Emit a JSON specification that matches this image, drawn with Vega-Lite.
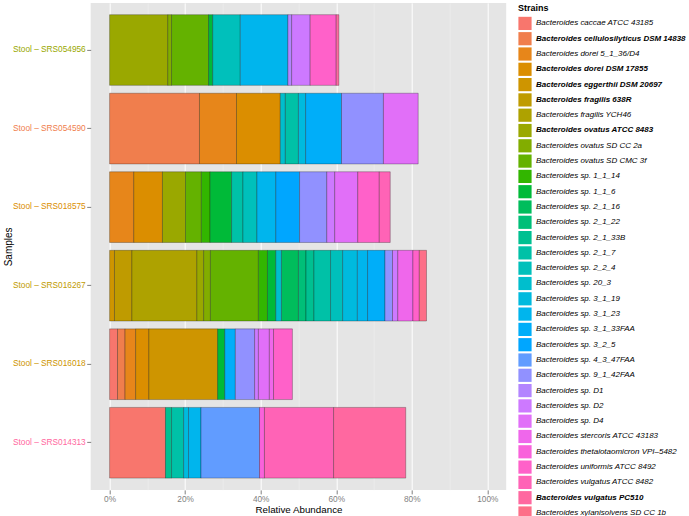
{
  "$schema": "https://vega.github.io/schema/vega-lite/v6.json",
  "autosize": "none",
  "width": 415.5,
  "height": 487,
  "padding": {"left": 90.7, "top": 2.9, "right": 182.8, "bottom": 26.2},
  "background": "white",
  "config": {
    "view": {"fill": "#E5E5E5", "stroke": null},
    "font": "Liberation Sans",
    "axis": {"labelFont": "Liberation Sans", "titleFont": "Liberation Sans", "domain": false, "titleFontWeight": "normal", "titleColor": "#000000"},
    "legend": {"labelFont": "Liberation Sans", "titleFont": "Liberation Sans"}
  },
  "data": {
    "values": [
      {"sample": "Stool – SRS054956", "strain": "Bacteroides ovatus ATCC 8483", "abundance": 0.154},
      {"sample": "Stool – SRS054956", "strain": "Bacteroides ovatus SD CC 2a", "abundance": 0.010},
      {"sample": "Stool – SRS054956", "strain": "Bacteroides ovatus SD CMC 3f", "abundance": 0.098},
      {"sample": "Stool – SRS054956", "strain": "Bacteroides sp. 1_1_6", "abundance": 0.011},
      {"sample": "Stool – SRS054956", "strain": "Bacteroides sp. 2_2_4", "abundance": 0.073},
      {"sample": "Stool – SRS054956", "strain": "Bacteroides sp. 3_1_23", "abundance": 0.126},
      {"sample": "Stool – SRS054956", "strain": "Bacteroides sp. D1", "abundance": 0.010},
      {"sample": "Stool – SRS054956", "strain": "Bacteroides sp. D2", "abundance": 0.049},
      {"sample": "Stool – SRS054956", "strain": "Bacteroides uniformis ATCC 8492", "abundance": 0.069},
      {"sample": "Stool – SRS054956", "strain": "Bacteroides vulgatus PC510", "abundance": 0.007},

      {"sample": "Stool – SRS054590", "strain": "Bacteroides cellulosilyticus DSM 14838", "abundance": 0.238},
      {"sample": "Stool – SRS054590", "strain": "Bacteroides dorei 5_1_36/D4", "abundance": 0.098},
      {"sample": "Stool – SRS054590", "strain": "Bacteroides dorei DSM 17855", "abundance": 0.116},
      {"sample": "Stool – SRS054590", "strain": "Bacteroides sp. 2_1_7", "abundance": 0.035},
      {"sample": "Stool – SRS054590", "strain": "Bacteroides sp. 20_3", "abundance": 0.013},
      {"sample": "Stool – SRS054590", "strain": "Bacteroides sp. 3_1_19", "abundance": 0.019},
      {"sample": "Stool – SRS054590", "strain": "Bacteroides sp. 3_1_33FAA", "abundance": 0.095},
      {"sample": "Stool – SRS054590", "strain": "Bacteroides sp. 9_1_42FAA", "abundance": 0.111},
      {"sample": "Stool – SRS054590", "strain": "Bacteroides sp. D4", "abundance": 0.092},

      {"sample": "Stool – SRS018575", "strain": "Bacteroides dorei 5_1_36/D4", "abundance": 0.064},
      {"sample": "Stool – SRS018575", "strain": "Bacteroides dorei DSM 17855", "abundance": 0.076},
      {"sample": "Stool – SRS018575", "strain": "Bacteroides ovatus ATCC 8483", "abundance": 0.061},
      {"sample": "Stool – SRS018575", "strain": "Bacteroides ovatus SD CMC 3f", "abundance": 0.042},
      {"sample": "Stool – SRS018575", "strain": "Bacteroides sp. 1_1_14", "abundance": 0.023},
      {"sample": "Stool – SRS018575", "strain": "Bacteroides sp. 1_1_6", "abundance": 0.057},
      {"sample": "Stool – SRS018575", "strain": "Bacteroides sp. 2_1_7", "abundance": 0.030},
      {"sample": "Stool – SRS018575", "strain": "Bacteroides sp. 2_2_4", "abundance": 0.037},
      {"sample": "Stool – SRS018575", "strain": "Bacteroides sp. 3_1_23", "abundance": 0.050},
      {"sample": "Stool – SRS018575", "strain": "Bacteroides sp. 3_2_5", "abundance": 0.063},
      {"sample": "Stool – SRS018575", "strain": "Bacteroides sp. 9_1_42FAA", "abundance": 0.072},
      {"sample": "Stool – SRS018575", "strain": "Bacteroides sp. D2", "abundance": 0.021},
      {"sample": "Stool – SRS018575", "strain": "Bacteroides sp. D4", "abundance": 0.061},
      {"sample": "Stool – SRS018575", "strain": "Bacteroides uniformis ATCC 8492", "abundance": 0.057},
      {"sample": "Stool – SRS018575", "strain": "Bacteroides vulgatus ATCC 8482", "abundance": 0.029},

      {"sample": "Stool – SRS016267", "strain": "Bacteroides eggerthii DSM 20697", "abundance": 0.013},
      {"sample": "Stool – SRS016267", "strain": "Bacteroides fragilis 638R", "abundance": 0.046},
      {"sample": "Stool – SRS016267", "strain": "Bacteroides fragilis YCH46", "abundance": 0.172},
      {"sample": "Stool – SRS016267", "strain": "Bacteroides ovatus ATCC 8483", "abundance": 0.018},
      {"sample": "Stool – SRS016267", "strain": "Bacteroides ovatus SD CC 2a", "abundance": 0.018},
      {"sample": "Stool – SRS016267", "strain": "Bacteroides ovatus SD CMC 3f", "abundance": 0.127},
      {"sample": "Stool – SRS016267", "strain": "Bacteroides sp. 1_1_14", "abundance": 0.024},
      {"sample": "Stool – SRS016267", "strain": "Bacteroides sp. 1_1_6", "abundance": 0.022},
      {"sample": "Stool – SRS016267", "strain": "Bacteroides sp. 2_1_16", "abundance": 0.045},
      {"sample": "Stool – SRS016267", "strain": "Bacteroides sp. 2_1_22", "abundance": 0.020},
      {"sample": "Stool – SRS016267", "strain": "Bacteroides sp. 2_1_33B", "abundance": 0.021},
      {"sample": "Stool – SRS016267", "strain": "Bacteroides sp. 2_1_7", "abundance": 0.044},
      {"sample": "Stool – SRS016267", "strain": "Bacteroides sp. 2_2_4", "abundance": 0.032},
      {"sample": "Stool – SRS016267", "strain": "Bacteroides sp. 20_3", "abundance": 0.015},
      {"sample": "Stool – SRS016267", "strain": "Bacteroides sp. 3_1_19", "abundance": 0.039},
      {"sample": "Stool – SRS016267", "strain": "Bacteroides sp. 3_1_23", "abundance": 0.027},
      {"sample": "Stool – SRS016267", "strain": "Bacteroides sp. 3_1_33FAA", "abundance": 0.046},
      {"sample": "Stool – SRS016267", "strain": "Bacteroides sp. 9_1_42FAA", "abundance": 0.020},
      {"sample": "Stool – SRS016267", "strain": "Bacteroides sp. D2", "abundance": 0.014},
      {"sample": "Stool – SRS016267", "strain": "Bacteroides stercoris ATCC 43183", "abundance": 0.040},
      {"sample": "Stool – SRS016267", "strain": "Bacteroides uniformis ATCC 8492", "abundance": 0.017},
      {"sample": "Stool – SRS016267", "strain": "Bacteroides xylanisolvens SD CC 1b", "abundance": 0.019},

      {"sample": "Stool – SRS016018", "strain": "Bacteroides caccae ATCC 43185", "abundance": 0.021},
      {"sample": "Stool – SRS016018", "strain": "Bacteroides cellulosilyticus DSM 14838", "abundance": 0.020},
      {"sample": "Stool – SRS016018", "strain": "Bacteroides dorei 5_1_36/D4", "abundance": 0.028},
      {"sample": "Stool – SRS016018", "strain": "Bacteroides dorei DSM 17855", "abundance": 0.035},
      {"sample": "Stool – SRS016018", "strain": "Bacteroides eggerthii DSM 20697", "abundance": 0.182},
      {"sample": "Stool – SRS016018", "strain": "Bacteroides sp. 1_1_6", "abundance": 0.019},
      {"sample": "Stool – SRS016018", "strain": "Bacteroides sp. 3_1_33FAA", "abundance": 0.028},
      {"sample": "Stool – SRS016018", "strain": "Bacteroides sp. 9_1_42FAA", "abundance": 0.051},
      {"sample": "Stool – SRS016018", "strain": "Bacteroides sp. D2", "abundance": 0.010},
      {"sample": "Stool – SRS016018", "strain": "Bacteroides sp. D4", "abundance": 0.029},
      {"sample": "Stool – SRS016018", "strain": "Bacteroides stercoris ATCC 43183", "abundance": 0.011},
      {"sample": "Stool – SRS016018", "strain": "Bacteroides uniformis ATCC 8492", "abundance": 0.050},

      {"sample": "Stool – SRS014313", "strain": "Bacteroides caccae ATCC 43185", "abundance": 0.148},
      {"sample": "Stool – SRS014313", "strain": "Bacteroides sp. 2_1_33B", "abundance": 0.016},
      {"sample": "Stool – SRS014313", "strain": "Bacteroides sp. 2_1_7", "abundance": 0.032},
      {"sample": "Stool – SRS014313", "strain": "Bacteroides sp. 3_1_19", "abundance": 0.013},
      {"sample": "Stool – SRS014313", "strain": "Bacteroides sp. 3_1_23", "abundance": 0.033},
      {"sample": "Stool – SRS014313", "strain": "Bacteroides sp. 4_3_47FAA", "abundance": 0.155},
      {"sample": "Stool – SRS014313", "strain": "Bacteroides thetaiotaomicron VPI–5482", "abundance": 0.013},
      {"sample": "Stool – SRS014313", "strain": "Bacteroides vulgatus ATCC 8482", "abundance": 0.183},
      {"sample": "Stool – SRS014313", "strain": "Bacteroides vulgatus PC510", "abundance": 0.191}
    ]
  },
  "mark": {"type": "bar", "stroke": "#000000", "strokeWidth": 0.6, "strokeOpacity": 0.45},
  "encoding": {
    "y": {
      "field": "sample",
      "type": "nominal",
      "sort": "descending",
      "title": "Samples",
      "scale": {"paddingInner": 0.1, "paddingOuter": 0.15},
      "axis": {
        "bandPosition": 0.5,
        "labelFontSize": 8.3,
        "labelPadding": 1.5,
        "tickSize": 4,
        "tickColor": "#7F7F7F",
        "gridColor": "#FFFFFF",
        "gridWidth": 1,
        "titleFontSize": 10,
        "titleX": -82,
        "titleY": 243.5,
        "titleAngle": -90,
        "titleAlign": "center",
        "titleBaseline": "middle",
        "labelColor": {
          "condition": [
            {"test": "datum.value == 'Stool – SRS054956'", "value": "#9AA800"},
            {"test": "datum.value == 'Stool – SRS054590'", "value": "#F07E4D"},
            {"test": "datum.value == 'Stool – SRS018575'", "value": "#DB8E00"},
            {"test": "datum.value == 'Stool – SRS016267'", "value": "#BF9B00"},
            {"test": "datum.value == 'Stool – SRS016018'", "value": "#CE9500"}
          ],
          "value": "#FF68A0"
        }
      }
    },
    "x": {
      "field": "abundance",
      "type": "quantitative",
      "stack": "zero",
      "title": "Relative Abundance",
      "scale": {"domain": [-0.05, 1.05], "nice": false, "zero": false},
      "axis": {
        "values": [0, 0.1, 0.2, 0.3, 0.4, 0.5, 0.6, 0.7, 0.8, 0.9, 1.0],
        "labelExpr": "round(datum.value * 10) % 2 == 0 ? format(datum.value, '.0%') : ''",
        "labelFontSize": 8.3,
        "labelColor": "#7F7F7F",
        "labelPadding": 1,
        "tickSize": 4,
        "tickColor": {"condition": {"test": "round(datum.value * 10) % 2 == 0", "value": "#7F7F7F"}, "value": "transparent"},
        "gridColor": {"condition": {"test": "round(datum.value * 10) % 2 == 0", "value": "#FFFFFF"}, "value": "#F2F2F2"},
        "gridWidth": {"condition": {"test": "round(datum.value * 10) % 2 == 0", "value": 1}, "value": 0.5},
        "titleFontSize": 9.8,
        "titlePadding": 1
      }
    },
    "color": {
      "field": "strain",
      "type": "nominal",
      "sort": [
        "Bacteroides caccae ATCC 43185", "Bacteroides cellulosilyticus DSM 14838", "Bacteroides dorei 5_1_36/D4", "Bacteroides dorei DSM 17855", "Bacteroides eggerthii DSM 20697", "Bacteroides fragilis 638R", "Bacteroides fragilis YCH46", "Bacteroides ovatus ATCC 8483", "Bacteroides ovatus SD CC 2a", "Bacteroides ovatus SD CMC 3f", "Bacteroides sp. 1_1_14", "Bacteroides sp. 1_1_6", "Bacteroides sp. 2_1_16", "Bacteroides sp. 2_1_22", "Bacteroides sp. 2_1_33B", "Bacteroides sp. 2_1_7", "Bacteroides sp. 2_2_4", "Bacteroides sp. 20_3", "Bacteroides sp. 3_1_19", "Bacteroides sp. 3_1_23", "Bacteroides sp. 3_1_33FAA", "Bacteroides sp. 3_2_5", "Bacteroides sp. 4_3_47FAA", "Bacteroides sp. 9_1_42FAA", "Bacteroides sp. D1", "Bacteroides sp. D2", "Bacteroides sp. D4", "Bacteroides stercoris ATCC 43183", "Bacteroides thetaiotaomicron VPI–5482", "Bacteroides uniformis ATCC 8492", "Bacteroides vulgatus ATCC 8482", "Bacteroides vulgatus PC510", "Bacteroides xylanisolvens SD CC 1b"
      ],
      "scale": {
        "domain": [
          "Bacteroides caccae ATCC 43185", "Bacteroides cellulosilyticus DSM 14838", "Bacteroides dorei 5_1_36/D4", "Bacteroides dorei DSM 17855", "Bacteroides eggerthii DSM 20697", "Bacteroides fragilis 638R", "Bacteroides fragilis YCH46", "Bacteroides ovatus ATCC 8483", "Bacteroides ovatus SD CC 2a", "Bacteroides ovatus SD CMC 3f", "Bacteroides sp. 1_1_14", "Bacteroides sp. 1_1_6", "Bacteroides sp. 2_1_16", "Bacteroides sp. 2_1_22", "Bacteroides sp. 2_1_33B", "Bacteroides sp. 2_1_7", "Bacteroides sp. 2_2_4", "Bacteroides sp. 20_3", "Bacteroides sp. 3_1_19", "Bacteroides sp. 3_1_23", "Bacteroides sp. 3_1_33FAA", "Bacteroides sp. 3_2_5", "Bacteroides sp. 4_3_47FAA", "Bacteroides sp. 9_1_42FAA", "Bacteroides sp. D1", "Bacteroides sp. D2", "Bacteroides sp. D4", "Bacteroides stercoris ATCC 43183", "Bacteroides thetaiotaomicron VPI–5482", "Bacteroides uniformis ATCC 8492", "Bacteroides vulgatus ATCC 8482", "Bacteroides vulgatus PC510", "Bacteroides xylanisolvens SD CC 1b"
        ],
        "range": ["#F8766D", "#F07E4D", "#E7861A", "#DB8E00", "#CE9500", "#BF9B00", "#AEA200", "#9AA800", "#82AD00", "#64B200", "#32B600", "#00BA38", "#00BD5C", "#00BF78", "#00C091", "#00C1A7", "#00C0BB", "#00BECD", "#00BADE", "#00B5ED", "#00AEF9", "#00A6FF", "#619CFF", "#9191FF", "#B385FF", "#CD79FF", "#E16FF8", "#EF67EB", "#F962DB", "#FF61C9", "#FF63B6", "#FF68A0", "#FD6F88"]
      },
      "legend": {
        "title": "Strains",
        "orient": "none",
        "legendX": 427.3,
        "legendY": 1,
        "direction": "vertical",
        "columns": 1,
        "padding": 0,
        "titleFontSize": 9,
        "titleFontWeight": "bold",
        "titleColor": "#000000",
        "titlePadding": 3.5,
        "symbolType": "square",
        "symbolSize": 174,
        "symbolStrokeWidth": 0,
        "symbolOpacity": 1,
        "symbolLimit": 40,
        "rowPadding": 1.3,
        "labelFontSize": 8,
        "labelFontStyle": "italic",
        "labelColor": "#000000",
        "labelOffset": 4,
        "labelLimit": 200,
        "labelFontWeight": {"expr": "indexof(['Bacteroides cellulosilyticus DSM 14838', 'Bacteroides dorei DSM 17855', 'Bacteroides eggerthii DSM 20697', 'Bacteroides fragilis 638R', 'Bacteroides ovatus ATCC 8483', 'Bacteroides vulgatus PC510'], datum.label) >= 0 ? 'bold' : 'normal'"}
      }
    }
  }
}
